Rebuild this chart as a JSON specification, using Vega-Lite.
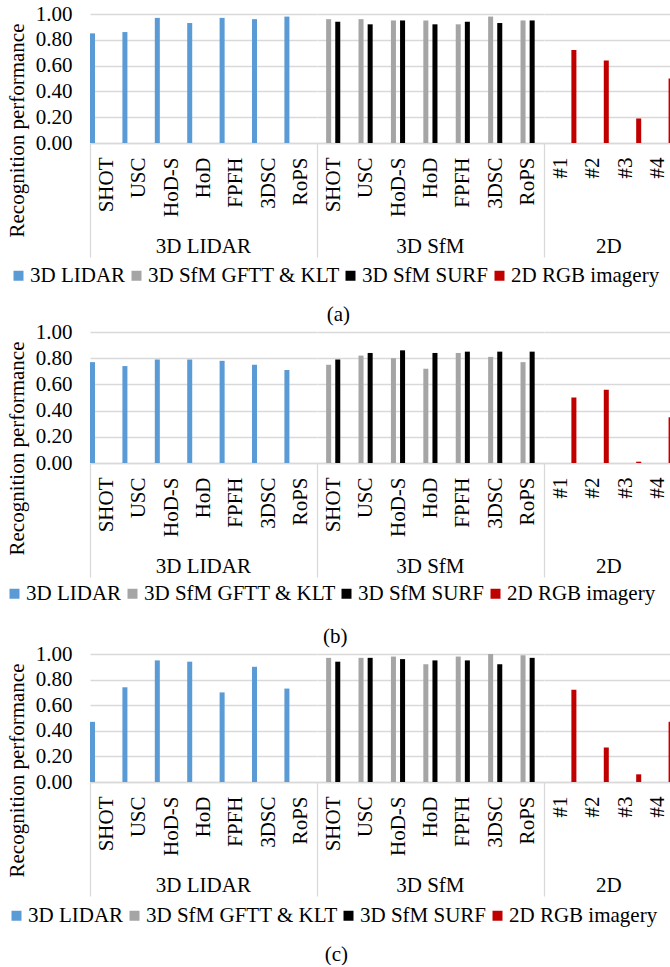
{
  "$schema": "https://vega.github.io/schema/vega-lite/v6.json",
  "padding": {"left": 4, "top": 3, "right": 0, "bottom": 0},
  "spacing": -4,
  "resolve": {"legend": {"color": "independent"}},
  "config": {
    "font": "Liberation Serif",
    "view": {"stroke": null},
    "facet": {"spacing": 0},
    "axis": {"labelFont": "Liberation Serif", "labelFontSize": 21, "labelColor": "#000000", "titleFont": "Liberation Serif", "titleFontSize": 21, "titleFontWeight": "normal", "titleColor": "#000000"},
    "header": {"labelFont": "Liberation Serif", "labelFontSize": 21, "labelColor": "#000000", "titleFont": "Liberation Serif"},
    "legend": {"labelFont": "Liberation Serif", "labelFontSize": 21, "labelColor": "#000000", "titleFont": "Liberation Serif"},
    "title": {"font": "Liberation Serif", "fontSize": 21, "fontWeight": "normal", "color": "#000000"}
  },
  "vconcat": [
    {
      "title": {"text": "(a)", "orient": "bottom", "anchor": "middle", "offset": 18, "dx": -2},
      "data": {"values": [
        {"group": "3D LIDAR", "method": "SHOT", "series": "3D LIDAR", "value": 0.85},
        {"group": "3D LIDAR", "method": "USC", "series": "3D LIDAR", "value": 0.86},
        {"group": "3D LIDAR", "method": "HoD-S", "series": "3D LIDAR", "value": 0.97},
        {"group": "3D LIDAR", "method": "HoD", "series": "3D LIDAR", "value": 0.93},
        {"group": "3D LIDAR", "method": "FPFH", "series": "3D LIDAR", "value": 0.97},
        {"group": "3D LIDAR", "method": "3DSC", "series": "3D LIDAR", "value": 0.96},
        {"group": "3D LIDAR", "method": "RoPS", "series": "3D LIDAR", "value": 0.98},
        {"group": "3D SfM", "method": "SHOT", "series": "3D SfM GFTT & KLT", "value": 0.96},
        {"group": "3D SfM", "method": "USC", "series": "3D SfM GFTT & KLT", "value": 0.96},
        {"group": "3D SfM", "method": "HoD-S", "series": "3D SfM GFTT & KLT", "value": 0.95},
        {"group": "3D SfM", "method": "HoD", "series": "3D SfM GFTT & KLT", "value": 0.95},
        {"group": "3D SfM", "method": "FPFH", "series": "3D SfM GFTT & KLT", "value": 0.92},
        {"group": "3D SfM", "method": "3DSC", "series": "3D SfM GFTT & KLT", "value": 0.98},
        {"group": "3D SfM", "method": "RoPS", "series": "3D SfM GFTT & KLT", "value": 0.95},
        {"group": "3D SfM", "method": "SHOT", "series": "3D SfM SURF", "value": 0.94},
        {"group": "3D SfM", "method": "USC", "series": "3D SfM SURF", "value": 0.92},
        {"group": "3D SfM", "method": "HoD-S", "series": "3D SfM SURF", "value": 0.95},
        {"group": "3D SfM", "method": "HoD", "series": "3D SfM SURF", "value": 0.92},
        {"group": "3D SfM", "method": "FPFH", "series": "3D SfM SURF", "value": 0.94},
        {"group": "3D SfM", "method": "3DSC", "series": "3D SfM SURF", "value": 0.93},
        {"group": "3D SfM", "method": "RoPS", "series": "3D SfM SURF", "value": 0.95},
        {"group": "2D", "method": "#1", "series": "2D RGB imagery", "value": 0.72},
        {"group": "2D", "method": "#2", "series": "2D RGB imagery", "value": 0.64},
        {"group": "2D", "method": "#3", "series": "2D RGB imagery", "value": 0.19},
        {"group": "2D", "method": "#4", "series": "2D RGB imagery", "value": 0.50}
      ]},
      "facet": {"column": {"field": "group", "type": "nominal", "sort": ["3D LIDAR", "3D SfM", "2D"], "title": null, "header": {"labelOrient": "bottom", "labelPadding": 93, "labelFont": "Liberation Serif", "labelFontSize": 21}}},
      "spacing": 0,
      "bounds": "flush",
      "resolve": {"scale": {"x": "independent"}},
      "spec": {
        "width": {"step": 32.4, "for": "position"},
        "height": 129,
        "mark": {"type": "bar"},
        "encoding": {
          "x": {"field": "method", "type": "nominal", "sort": null, "scale": {"paddingInner": 0, "paddingOuter": 0},
            "axis": {"title": null, "labelAngle": -90, "labelFont": "Liberation Serif", "labelFontSize": 21, "domainColor": "#d9d9d9", "domainWidth": 1.3, "tickSize": 114, "tickBand": "extent", "tickWidth": 1.3, "tickColor": {"condition": {"test": "datum.index < 0 || datum.label === '' || datum.value == null", "value": "#d9d9d9"}, "value": "transparent"}, "labelPadding": -100}},
          "xOffset": {"field": "series", "type": "nominal", "scale": {"domain": ["3D LIDAR", "3D SfM GFTT & KLT", "3D SfM SURF", "2D RGB imagery"], "range": [0, 32.4], "paddingInner": 0.45, "paddingOuter": 0}},
          "y": {"field": "value", "type": "quantitative", "scale": {"domain": [0, 1]},
            "axis": {"title": "Recognition performance", "format": ".2f", "values": [0, 0.2, 0.4, 0.6, 0.8, 1], "domain": false, "ticks": false, "labelFont": "Liberation Serif", "titleFont": "Liberation Serif", "labelFontSize": 21, "titleFontSize": 21, "labelPadding": 18, "titlePadding": 8, "titleY": 116, "gridColor": "#d9d9d9", "gridWidth": 1.3}},
          "color": {"field": "series", "type": "nominal", "scale": {"domain": ["3D LIDAR", "3D SfM GFTT & KLT", "3D SfM SURF", "2D RGB imagery"], "range": ["#5b9bd5", "#a5a5a5", "#000000", "#c00000"]},
            "legend": {"orient": "none", "legendX": -82, "legendY": 251, "direction": "horizontal", "columns": 4, "title": null, "padding": 0, "symbolOffset": 0, "labelFont": "Liberation Serif", "labelFontSize": 21, "symbolType": "square", "symbolSize": 100, "symbolStrokeWidth": 0, "labelLimit": 400, "columnPadding": 0, "labelOffset": 1}}
        }
      }
    },
    {
      "title": {"text": "(b)", "orient": "bottom", "anchor": "middle", "offset": 22, "dx": -4},
      "data": {"values": [
        {"group": "3D LIDAR", "method": "SHOT", "series": "3D LIDAR", "value": 0.77},
        {"group": "3D LIDAR", "method": "USC", "series": "3D LIDAR", "value": 0.74},
        {"group": "3D LIDAR", "method": "HoD-S", "series": "3D LIDAR", "value": 0.79},
        {"group": "3D LIDAR", "method": "HoD", "series": "3D LIDAR", "value": 0.79},
        {"group": "3D LIDAR", "method": "FPFH", "series": "3D LIDAR", "value": 0.78},
        {"group": "3D LIDAR", "method": "3DSC", "series": "3D LIDAR", "value": 0.75},
        {"group": "3D LIDAR", "method": "RoPS", "series": "3D LIDAR", "value": 0.71},
        {"group": "3D SfM", "method": "SHOT", "series": "3D SfM GFTT & KLT", "value": 0.75},
        {"group": "3D SfM", "method": "USC", "series": "3D SfM GFTT & KLT", "value": 0.82},
        {"group": "3D SfM", "method": "HoD-S", "series": "3D SfM GFTT & KLT", "value": 0.80},
        {"group": "3D SfM", "method": "HoD", "series": "3D SfM GFTT & KLT", "value": 0.72},
        {"group": "3D SfM", "method": "FPFH", "series": "3D SfM GFTT & KLT", "value": 0.84},
        {"group": "3D SfM", "method": "3DSC", "series": "3D SfM GFTT & KLT", "value": 0.81},
        {"group": "3D SfM", "method": "RoPS", "series": "3D SfM GFTT & KLT", "value": 0.77},
        {"group": "3D SfM", "method": "SHOT", "series": "3D SfM SURF", "value": 0.79},
        {"group": "3D SfM", "method": "USC", "series": "3D SfM SURF", "value": 0.84},
        {"group": "3D SfM", "method": "HoD-S", "series": "3D SfM SURF", "value": 0.86},
        {"group": "3D SfM", "method": "HoD", "series": "3D SfM SURF", "value": 0.84},
        {"group": "3D SfM", "method": "FPFH", "series": "3D SfM SURF", "value": 0.85},
        {"group": "3D SfM", "method": "3DSC", "series": "3D SfM SURF", "value": 0.85},
        {"group": "3D SfM", "method": "RoPS", "series": "3D SfM SURF", "value": 0.85},
        {"group": "2D", "method": "#1", "series": "2D RGB imagery", "value": 0.50},
        {"group": "2D", "method": "#2", "series": "2D RGB imagery", "value": 0.56},
        {"group": "2D", "method": "#3", "series": "2D RGB imagery", "value": 0.01},
        {"group": "2D", "method": "#4", "series": "2D RGB imagery", "value": 0.35}
      ]},
      "facet": {"column": {"field": "group", "type": "nominal", "sort": ["3D LIDAR", "3D SfM", "2D"], "title": null, "header": {"labelOrient": "bottom", "labelPadding": 93, "labelFont": "Liberation Serif", "labelFontSize": 21}}},
      "spacing": 0,
      "bounds": "flush",
      "resolve": {"scale": {"x": "independent"}},
      "spec": {
        "width": {"step": 32.4, "for": "position"},
        "height": 131,
        "mark": {"type": "bar"},
        "encoding": {
          "x": {"field": "method", "type": "nominal", "sort": null, "scale": {"paddingInner": 0, "paddingOuter": 0},
            "axis": {"title": null, "labelAngle": -90, "labelFont": "Liberation Serif", "labelFontSize": 21, "domainColor": "#d9d9d9", "domainWidth": 1.3, "tickSize": 114, "tickBand": "extent", "tickWidth": 1.3, "tickColor": {"condition": {"test": "datum.index < 0 || datum.label === '' || datum.value == null", "value": "#d9d9d9"}, "value": "transparent"}, "labelPadding": -100}},
          "xOffset": {"field": "series", "type": "nominal", "scale": {"domain": ["3D LIDAR", "3D SfM GFTT & KLT", "3D SfM SURF", "2D RGB imagery"], "range": [0, 32.4], "paddingInner": 0.45, "paddingOuter": 0}},
          "y": {"field": "value", "type": "quantitative", "scale": {"domain": [0, 1]},
            "axis": {"title": "Recognition performance", "format": ".2f", "values": [0, 0.2, 0.4, 0.6, 0.8, 1], "domain": false, "ticks": false, "labelFont": "Liberation Serif", "titleFont": "Liberation Serif", "labelFontSize": 21, "titleFontSize": 21, "labelPadding": 18, "titlePadding": 8, "titleY": 116, "gridColor": "#d9d9d9", "gridWidth": 1.3}},
          "color": {"field": "series", "type": "nominal", "scale": {"domain": ["3D LIDAR", "3D SfM GFTT & KLT", "3D SfM SURF", "2D RGB imagery"], "range": ["#5b9bd5", "#a5a5a5", "#000000", "#c00000"]},
            "legend": {"orient": "none", "legendX": -86, "legendY": 251, "direction": "horizontal", "columns": 4, "title": null, "padding": 0, "symbolOffset": 0, "labelFont": "Liberation Serif", "labelFontSize": 21, "symbolType": "square", "symbolSize": 100, "symbolStrokeWidth": 0, "labelLimit": 400, "columnPadding": 0, "labelOffset": 1}}
        }
      }
    },
    {
      "title": {"text": "(c)", "orient": "bottom", "anchor": "middle", "offset": 18, "dx": -4},
      "data": {"values": [
        {"group": "3D LIDAR", "method": "SHOT", "series": "3D LIDAR", "value": 0.47},
        {"group": "3D LIDAR", "method": "USC", "series": "3D LIDAR", "value": 0.74},
        {"group": "3D LIDAR", "method": "HoD-S", "series": "3D LIDAR", "value": 0.95},
        {"group": "3D LIDAR", "method": "HoD", "series": "3D LIDAR", "value": 0.94},
        {"group": "3D LIDAR", "method": "FPFH", "series": "3D LIDAR", "value": 0.70},
        {"group": "3D LIDAR", "method": "3DSC", "series": "3D LIDAR", "value": 0.90},
        {"group": "3D LIDAR", "method": "RoPS", "series": "3D LIDAR", "value": 0.73},
        {"group": "3D SfM", "method": "SHOT", "series": "3D SfM GFTT & KLT", "value": 0.97},
        {"group": "3D SfM", "method": "USC", "series": "3D SfM GFTT & KLT", "value": 0.97},
        {"group": "3D SfM", "method": "HoD-S", "series": "3D SfM GFTT & KLT", "value": 0.98},
        {"group": "3D SfM", "method": "HoD", "series": "3D SfM GFTT & KLT", "value": 0.92},
        {"group": "3D SfM", "method": "FPFH", "series": "3D SfM GFTT & KLT", "value": 0.98},
        {"group": "3D SfM", "method": "3DSC", "series": "3D SfM GFTT & KLT", "value": 1.00},
        {"group": "3D SfM", "method": "RoPS", "series": "3D SfM GFTT & KLT", "value": 0.99},
        {"group": "3D SfM", "method": "SHOT", "series": "3D SfM SURF", "value": 0.94},
        {"group": "3D SfM", "method": "USC", "series": "3D SfM SURF", "value": 0.97},
        {"group": "3D SfM", "method": "HoD-S", "series": "3D SfM SURF", "value": 0.96},
        {"group": "3D SfM", "method": "HoD", "series": "3D SfM SURF", "value": 0.95},
        {"group": "3D SfM", "method": "FPFH", "series": "3D SfM SURF", "value": 0.95},
        {"group": "3D SfM", "method": "3DSC", "series": "3D SfM SURF", "value": 0.92},
        {"group": "3D SfM", "method": "RoPS", "series": "3D SfM SURF", "value": 0.97},
        {"group": "2D", "method": "#1", "series": "2D RGB imagery", "value": 0.72},
        {"group": "2D", "method": "#2", "series": "2D RGB imagery", "value": 0.27},
        {"group": "2D", "method": "#3", "series": "2D RGB imagery", "value": 0.06},
        {"group": "2D", "method": "#4", "series": "2D RGB imagery", "value": 0.47}
      ]},
      "facet": {"column": {"field": "group", "type": "nominal", "sort": ["3D LIDAR", "3D SfM", "2D"], "title": null, "header": {"labelOrient": "bottom", "labelPadding": 93, "labelFont": "Liberation Serif", "labelFontSize": 21}}},
      "spacing": 0,
      "bounds": "flush",
      "resolve": {"scale": {"x": "independent"}},
      "spec": {
        "width": {"step": 32.4, "for": "position"},
        "height": 128,
        "mark": {"type": "bar"},
        "encoding": {
          "x": {"field": "method", "type": "nominal", "sort": null, "scale": {"paddingInner": 0, "paddingOuter": 0},
            "axis": {"title": null, "labelAngle": -90, "labelFont": "Liberation Serif", "labelFontSize": 21, "domainColor": "#d9d9d9", "domainWidth": 1.3, "tickSize": 114, "tickBand": "extent", "tickWidth": 1.3, "tickColor": {"condition": {"test": "datum.index < 0 || datum.label === '' || datum.value == null", "value": "#d9d9d9"}, "value": "transparent"}, "labelPadding": -100}},
          "xOffset": {"field": "series", "type": "nominal", "scale": {"domain": ["3D LIDAR", "3D SfM GFTT & KLT", "3D SfM SURF", "2D RGB imagery"], "range": [0, 32.4], "paddingInner": 0.45, "paddingOuter": 0}},
          "y": {"field": "value", "type": "quantitative", "scale": {"domain": [0, 1]},
            "axis": {"title": "Recognition performance", "format": ".2f", "values": [0, 0.2, 0.4, 0.6, 0.8, 1], "domain": false, "ticks": false, "labelFont": "Liberation Serif", "titleFont": "Liberation Serif", "labelFontSize": 21, "titleFontSize": 21, "labelPadding": 18, "titlePadding": 8, "titleY": 116, "gridColor": "#d9d9d9", "gridWidth": 1.3}},
          "color": {"field": "series", "type": "nominal", "scale": {"domain": ["3D LIDAR", "3D SfM GFTT & KLT", "3D SfM SURF", "2D RGB imagery"], "range": ["#5b9bd5", "#a5a5a5", "#000000", "#c00000"]},
            "legend": {"orient": "none", "legendX": -84, "legendY": 251, "direction": "horizontal", "columns": 4, "title": null, "padding": 0, "symbolOffset": 0, "labelFont": "Liberation Serif", "labelFontSize": 21, "symbolType": "square", "symbolSize": 100, "symbolStrokeWidth": 0, "labelLimit": 400, "columnPadding": 0, "labelOffset": 1}}
        }
      }
    }
  ]
}
